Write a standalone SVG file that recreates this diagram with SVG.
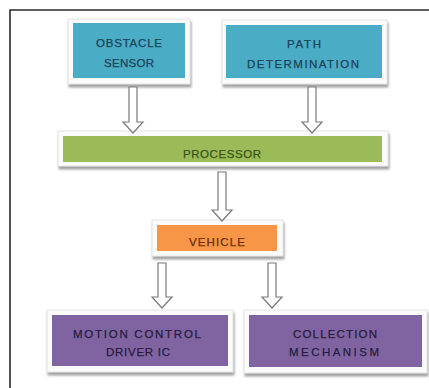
<svg xmlns="http://www.w3.org/2000/svg" width="429" height="388" viewBox="0 0 429 388">
<defs>
<filter id="sh" x="-10%" y="-20%" width="120%" height="150%">
<feDropShadow dx="1" dy="3" stdDeviation="1.2" flood-color="#8a8a8a" flood-opacity="0.8"/>
</filter>
</defs>
<style>
.frame{fill:#fbfbfb;stroke:#e4e4e4;stroke-width:1;filter:url(#sh)}
.teal{fill:#4BACC6}
.green{fill:#9BBB59}
.orange{fill:#F79646}
.purple{fill:#8064A2}
text{font-family:"Liberation Sans","DejaVu Sans",sans-serif;font-size:11.5px;text-anchor:middle;stroke-width:0.25}
.tt{fill:#1A4458;stroke:#1A4458}
.tg{fill:#3A5418;stroke:#3A5418}
.to{fill:#6E2E0C;stroke:#6E2E0C}
.tp{fill:#271C40;stroke:#271C40}
.arrow{fill:#ffffff;stroke:#7a7a7a;stroke-width:1.2;stroke-linejoin:miter}
.border{fill:none;stroke:#2b2b2b;stroke-width:1.6}
</style>
<rect width="429" height="388" fill="#ffffff"/>
<path class="border" d="M10,388 V10 H429"/>

<g id="obstacle-sensor">
<rect class="frame" x="68" y="19" width="122" height="65"/>
<rect class="teal" x="73" y="23" width="112" height="55"/>
<text class="tt" x="129" y="47" textLength="66" lengthAdjust="spacing">OBSTACLE</text>
<text class="tt" x="129" y="67" textLength="50" lengthAdjust="spacing">SENSOR</text>
</g>

<g id="path-determination">
<rect class="frame" x="222" y="20" width="165" height="64"/>
<rect class="teal" x="226" y="25" width="156" height="53"/>
<text class="tt" x="304" y="48" textLength="34" lengthAdjust="spacing">PATH</text>
<text class="tt" x="303" y="68" textLength="112" lengthAdjust="spacing">DETERMINATION</text>
</g>

<g id="processor">
<rect class="frame" x="58" y="131" width="330" height="35"/>
<rect class="green" x="63" y="136" width="319" height="26"/>
<text class="tg" x="222" y="158" textLength="78" lengthAdjust="spacing">PROCESSOR</text>
</g>

<g id="vehicle">
<rect class="frame" x="152" y="220" width="131" height="36"/>
<rect class="orange" x="157" y="225" width="120" height="26"/>
<text class="to" x="217" y="246" textLength="56" lengthAdjust="spacing">VEHICLE</text>
</g>

<g id="motion-control">
<rect class="frame" x="47" y="310" width="186" height="62"/>
<rect class="purple" x="52" y="315" width="176" height="51"/>
<text class="tp" x="137" y="338" textLength="128" lengthAdjust="spacing">MOTION CONTROL</text>
<text class="tp" x="138" y="356" textLength="64" lengthAdjust="spacing">DRIVER IC</text>
</g>

<g id="collection-mechanism">
<rect class="frame" x="244" y="310" width="183" height="63"/>
<rect class="purple" x="249" y="315" width="173" height="52"/>
<text class="tp" x="335" y="338" textLength="84" lengthAdjust="spacing">COLLECTION</text>
<text class="tp" x="334" y="356" textLength="90" lengthAdjust="spacing">MECHANISM</text>
</g>

<g id="connectors">
<path class="arrow" d="M129,87 H137 V122 H143 L133,133 L123,122 H129 Z"/>
<path class="arrow" d="M308,87 H316 V122 H322 L312,133 L302,122 H308 Z"/>
<path class="arrow" d="M218,172 H226 V210 H232 L222,221 L212,210 H218 Z"/>
<path class="arrow" d="M158,263 H166 V297 H172 L162,308 L152,297 H158 Z"/>
<path class="arrow" d="M268,263 H276 V297 H282 L272,308 L262,297 H268 Z"/>
</g>
</svg>
